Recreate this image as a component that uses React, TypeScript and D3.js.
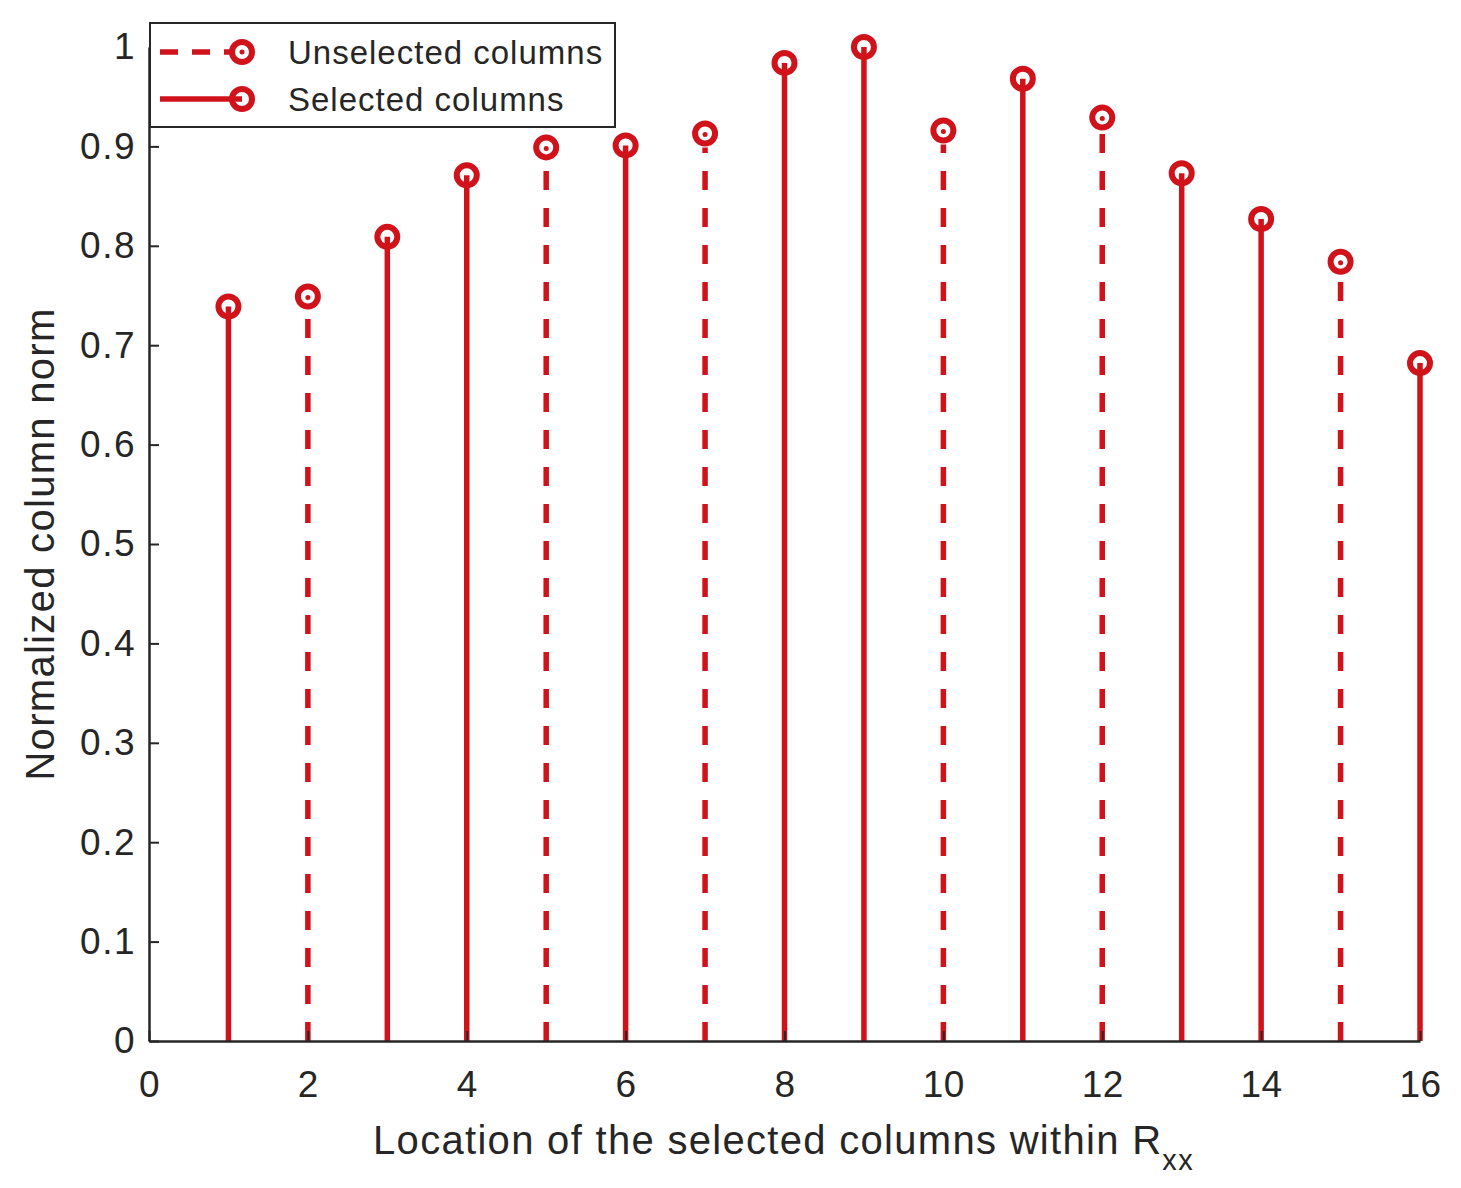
import React, { useEffect, useRef } from "react";
import * as d3 from "d3";

const locations = [1, 2, 3, 4, 5, 6, 7, 8, 9, 10, 11, 12, 13, 14, 15, 16];
const norms = [0.739, 0.749, 0.809, 0.871, 0.899, 0.901, 0.913, 0.984, 1.0, 0.916, 0.968, 0.929, 0.873, 0.827, 0.784, 0.682];
const selected = [1, 3, 4, 6, 8, 9, 11, 13, 14, 16];
const xTicks = [0, 2, 4, 6, 8, 10, 12, 14, 16];
const yTicks = [0, 0.1, 0.2, 0.3, 0.4, 0.5, 0.6, 0.7, 0.8, 0.9, 1];
const legendItems = ["Unselected columns", "Selected columns"];

const RED = "#d0121b";
const INK = "#262626";
const FONT = "'Liberation Sans', Arial, sans-serif";

export default function App() {
  const svgRef = useRef<SVGSVGElement>(null);
  const width = 1461;
  const height = 1188;

  useEffect(() => {
    document.body.style.margin = "0";
    const margin = { top: 47, right: 41, bottom: 147, left: 149 };
    const svg = d3.select(svgRef.current);
    svg.selectAll("*").remove();

    const x = d3.scaleLinear().domain([0, 16]).range([margin.left, width - margin.right]);
    const y = d3.scaleLinear().domain([0, 1]).range([height - margin.bottom, margin.top]);
    const y0 = y(0);

    svg.append("rect").attr("width", width).attr("height", height).attr("fill", "white");

    // stems (MATLAB-style stem plot, open circle markers)
    const data = locations.map((loc, i) => ({ loc, v: norms[i], sel: selected.includes(loc) }));
    const g = svg.append("g");
    g.selectAll("line.stem")
      .data(data)
      .enter()
      .append("line")
      .attr("class", "stem")
      .attr("x1", (d) => x(d.loc))
      .attr("x2", (d) => x(d.loc))
      .attr("y1", y0)
      .attr("y2", (d) => y(d.v) + (d.sel ? 0 : 14))
      .attr("stroke", RED)
      .attr("stroke-width", 5.5)
      .attr("stroke-dasharray", (d) => (d.sel ? null : "19,18"));

    g.selectAll("circle.mark")
      .data(data)
      .enter()
      .append("circle")
      .attr("class", "mark")
      .attr("cx", (d) => x(d.loc))
      .attr("cy", (d) => y(d.v))
      .attr("r", 10)
      .attr("fill", "none")
      .attr("stroke", RED)
      .attr("stroke-width", 6);
    g.selectAll("circle.dot")
      .data(data.filter((d) => !d.sel))
      .enter()
      .append("circle")
      .attr("class", "dot")
      .attr("cx", (d) => x(d.loc))
      .attr("cy", (d) => y(d.v) + 1)
      .attr("r", 2.5)
      .attr("fill", RED);

    // axes
    const xAxis = svg
      .append("g")
      .attr("transform", `translate(0,${y0})`)
      .call(d3.axisBottom(x).tickValues(xTicks).tickSizeInner(-10).tickSizeOuter(0).tickPadding(30).tickFormat(d3.format("d")));
    const yAxis = svg
      .append("g")
      .attr("transform", `translate(${margin.left},0)`)
      .call(d3.axisLeft(y).tickValues(yTicks).tickSizeInner(-10).tickSizeOuter(0).tickPadding(13).tickFormat((d) => (d === 0 ? "0" : d === 1 ? "1" : d3.format(".1f")(d as number))));
    [xAxis, yAxis].forEach((a) => {
      a.select(".domain").attr("stroke", INK).attr("stroke-width", 2.5);
      a.selectAll(".tick line").attr("stroke", INK).attr("stroke-width", 2);
      a.selectAll(".tick text").attr("fill", INK).style("font-family", FONT).style("font-size", "37px");
    });
    yAxis.selectAll(".tick text").style("letter-spacing", "1.5px");
    xAxis.selectAll(".tick text").attr("dy", "0.71em").style("letter-spacing", "0.5px");

    // axis titles
    const xl = svg
      .append("text")
      .attr("x", x(8) - 1)
      .attr("y", 1154)
      .attr("text-anchor", "middle")
      .attr("fill", INK)
      .style("font-family", FONT)
      .style("font-size", "40px")
      .style("letter-spacing", "1.3px");
    xl.append("tspan").text("Location of the selected columns within R");
    xl.append("tspan").attr("dy", 16).style("font-size", "29px").text("xx");

    svg
      .append("text")
      .attr("transform", `translate(54,${(y(0) + y(1)) / 2}) rotate(-90)`)
      .attr("text-anchor", "middle")
      .attr("fill", INK)
      .style("font-family", FONT)
      .style("font-size", "40px")
      .style("letter-spacing", "1.3px")
      .text("Normalized column norm");

    // legend
    const lg = svg.append("g");
    lg.append("rect")
      .attr("x", 150)
      .attr("y", 23)
      .attr("width", 465)
      .attr("height", 104)
      .attr("fill", "white")
      .attr("stroke", INK)
      .attr("stroke-width", 2);
    legendItems.forEach((label, i) => {
      const cy = 52 + i * 47;
      lg.append("line")
        .attr("x1", 160)
        .attr("x2", i === 0 ? 232 : 242)
        .attr("y1", cy)
        .attr("y2", cy)
        .attr("stroke", RED)
        .attr("stroke-width", 5.5)
        .attr("stroke-dasharray", i === 0 ? "18,14" : null);
      lg.append("circle").attr("cx", 242).attr("cy", cy).attr("r", 10).attr("fill", "none").attr("stroke", RED).attr("stroke-width", 6);
      if (i === 0) lg.append("circle").attr("cx", 242).attr("cy", cy).attr("r", 2.5).attr("fill", RED);
      lg.append("text")
        .attr("x", 288)
        .attr("y", cy + 12)
        .attr("fill", INK)
        .style("font-family", FONT)
        .style("font-size", "33px")
        .style("letter-spacing", "1px")
        .text(label);
    });
  }, []);

  return <svg ref={svgRef} width={width} height={height} style={{ display: "block" }} />;
}
